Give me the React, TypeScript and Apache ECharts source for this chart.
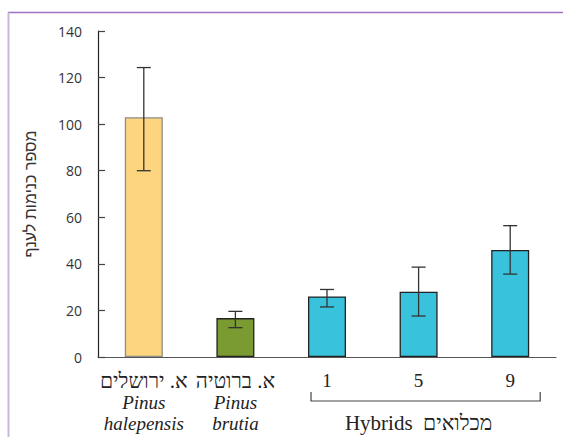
import React, { useEffect, useRef } from "react";
import * as echarts from "echarts";

const categories = ["halepensis", "brutia", "1", "5", "9"];
const hebrewNames = ["א. ירושלים", "א. ברוטיה"];
const latinGenus = ["Pinus", "Pinus"];
const latinSpecies = ["halepensis", "brutia"];
const barValues = [103, 16.7, 26, 28, 46];
const errHigh = [124.3, 19.6, 29, 38.6, 56.4];
const errLow = [80, 12.6, 21.5, 17.6, 35.6];
const barColors = ["#fdd57e", "#799b31", "#38c2dc", "#38c2dc", "#38c2dc"];
const barBorders = ["#8c8c8c", "#222222", "#222222", "#222222", "#222222"];
const yTicks = { min: 0, max: 140, interval: 20 };
const yAxisTitle = "מספר כנימות לענף";
const groupTitle = "Hybrids  מכלואים";

export default function App() {
  const ref = useRef<HTMLDivElement>(null);
  useEffect(() => {
    document.body.style.margin = "0";
    document.body.style.overflow = "hidden";
    if (!ref.current) return;
    const chart = echarts.init(ref.current, null, { renderer: "svg" });
    const serif = "Liberation Serif";
    const option: any = {
      animation: false,
      backgroundColor: "#ffffff",
      grid: { left: 98, top: 31, right: 8, bottom: 80 },
      xAxis: {
        type: "category",
        data: categories,
        boundaryGap: true,
        axisLine: { lineStyle: { color: "#555", width: 1.2 } },
        axisTick: { inside: true, length: 9, lineStyle: { color: "#555", width: 1.2 } },
        axisLabel: {
          margin: 13,
          interval: 0,
          fontFamily: serif,
          fontStyle: "italic",
          fontSize: 19,
          color: "#222",
          lineHeight: 21.5,
          formatter: (v: string, i: number) =>
            i < 2
              ? `{he|${hebrewNames[i]}}\n${latinGenus[i]}\n${latinSpecies[i]}`
              : `{num|${v}}`,
          rich: {
            he: { fontFamily: serif, fontStyle: "normal", fontSize: 21, color: "#222", lineHeight: 21.5 },
            num: { fontFamily: serif, fontStyle: "normal", fontSize: 19, color: "#222", lineHeight: 21.5 },
          },
        },
      },
      yAxis: {
        type: "value",
        min: yTicks.min,
        max: yTicks.max,
        interval: yTicks.interval,
        splitLine: { show: false },
        axisLine: { show: true, lineStyle: { color: "#222", width: 1.2 } },
        axisTick: { show: true, inside: true, length: 7, lineStyle: { color: "#444", width: 1.2 } },
        axisLabel: { margin: 16, fontFamily: "Open Sans", fontSize: 14, color: "#333" },
      },
      series: [
        {
          type: "bar",
          barWidth: 38,
          data: barValues.map((v, i) => ({
            value: v,
            itemStyle: { color: barColors[i], borderColor: barBorders[i], borderWidth: 1.3 },
          })),
        },
        {
          type: "custom",
          encode: { x: 0, y: [1, 2] },
          data: categories.map((c, i) => [i, errHigh[i], errLow[i]]),
          renderItem: (params: any, api: any) => {
            const i = api.value(0);
            const hi = api.coord([i, api.value(1)]);
            const lo = api.coord([i, api.value(2)]);
            const w = 7;
            const st = { stroke: "#333", lineWidth: 1.3 };
            return {
              type: "group",
              children: [
                { type: "line", shape: { x1: hi[0], y1: hi[1], x2: lo[0], y2: lo[1] }, style: st },
                { type: "line", shape: { x1: hi[0] - w, y1: hi[1], x2: hi[0] + w, y2: hi[1] }, style: st },
                { type: "line", shape: { x1: lo[0] - w, y1: lo[1], x2: lo[0] + w, y2: lo[1] }, style: st },
              ],
            };
          },
          z: 5,
        },
      ],
    };
    chart.setOption(option);

    const c3 = chart.convertToPixel({ xAxisIndex: 0 }, categories[2]) as number;
    const c4 = chart.convertToPixel({ xAxisIndex: 0 }, categories[3]) as number;
    const c5 = chart.convertToPixel({ xAxisIndex: 0 }, categories[4]) as number;
    const y0 = chart.convertToPixel({ yAxisIndex: 0 }, 0) as number;
    const yTop = chart.convertToPixel({ yAxisIndex: 0 }, yTicks.max) as number;
    const bx1 = c3 - 16;
    const bx2 = c5 + 30;
    const by = y0 + 44;
    chart.setOption({
      graphic: [
        { type: "line", shape: { x1: 8, y1: 12.5, x2: 563, y2: 12.5 }, style: { stroke: "#9d72c3", lineWidth: 1.5 } },
        { type: "line", shape: { x1: 8.5, y1: 12.5, x2: 8.5, y2: 437 }, style: { stroke: "#c9b8dc", lineWidth: 2 } },
        {
          type: "polyline",
          shape: { points: [[bx1, by - 9], [bx1, by], [bx2, by], [bx2, by - 9]] },
          style: { stroke: "#444", lineWidth: 1.2, fill: null },
        },
        {
          type: "text",
          x: c4,
          y: by + 22,
          style: {
            text: groupTitle,
            fontFamily: serif,
            fontSize: 21,
            fill: "#222",
            textAlign: "center",
            textVerticalAlign: "middle",
          },
        },
        {
          type: "text",
          x: 30,
          y: (y0 + yTop) / 2,
          rotation: Math.PI / 2,
          style: {
            text: yAxisTitle,
            fontFamily: "Liberation Sans",
            fontSize: 16,
            fill: "#333",
            textAlign: "center",
            textVerticalAlign: "middle",
          },
        },
      ],
    });
    return () => chart.dispose();
  }, []);
  return <div ref={ref} style={{ width: 564, height: 437 }} />;
}
